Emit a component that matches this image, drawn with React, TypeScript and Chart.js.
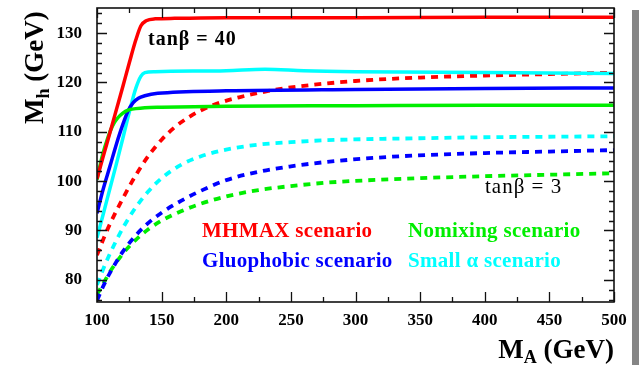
import React, { useEffect, useRef } from 'react';
import { Chart, registerables } from 'chart.js';

Chart.register(...registerables);

// ---- data (M_A in GeV, M_h in GeV) ----
const maRedSolid = [100, 105, 110, 115, 120, 125, 130, 134, 138, 145, 160, 200, 300, 400, 500];
const mhRedSolid = [100.5, 105.2, 109.8, 114.5, 119.2, 124, 128.6, 131.5, 132.5, 132.9, 133, 133.1, 133.1, 133.2, 133.2];

const maGreenSolid = [100, 104, 108.5, 112, 116, 120, 124, 130, 137, 150, 200, 300, 400, 500];
const mhGreenSolid = [100.3, 105, 108.9, 111.2, 112.8, 113.8, 114.4, 114.7, 114.9, 115, 115.2, 115.3, 115.4, 115.4];

const maBlueSolid = [100, 104.6, 110, 115, 120, 124, 128, 132, 137, 147, 200, 300, 400, 500];
const mhBlueSolid = [93.5, 98.2, 103, 107.5, 111.5, 114.2, 115.9, 116.8, 117.3, 117.8, 118.3, 118.6, 118.8, 118.9];

const maCyanSolid = [100, 105, 110, 115, 120, 125, 130, 134, 137, 145, 200, 230, 260, 300, 400, 500];
const mhCyanSolid = [88.5, 93.5, 98.5, 103.5, 108.7, 114, 118.8, 121.3, 122, 122.2, 122.4, 122.7, 122.4, 122.2, 122, 121.8];

const maRedDash = [100, 105, 110, 120, 130, 140, 150, 160, 170, 180, 195, 210, 225, 250, 300, 350, 400, 450, 500];
const mhRedDash = [85, 88.3, 91.3, 96.5, 101.2, 105.2, 108.4, 110.9, 112.8, 114.3, 115.9, 117, 117.9, 119, 120.3, 121, 121.4, 121.7, 122];

const maCyanDash = [100, 105, 110, 115, 120, 130, 140, 150, 165, 180, 200, 225, 250, 278, 350, 400, 450, 500];
const mhCyanDash = [79, 82.3, 85.3, 88, 90.5, 94.7, 98, 100.6, 103.3, 105, 106.4, 107.4, 107.9, 108.3, 108.7, 108.9, 109, 109.1];

const maBlueDash = [100, 105, 110, 120, 130, 140, 150, 165, 180, 200, 225, 250, 278, 325, 400, 450, 500];
const mhBlueDash = [75.8, 78.8, 81.4, 85.7, 89, 91.6, 93.6, 96, 98, 100.2, 101.9, 103, 103.9, 104.9, 105.7, 106, 106.3];

const maGreenDash = [100, 105, 110, 120, 130, 140, 150, 165, 180, 200, 225, 250, 278, 350, 400, 450, 500];
const mhGreenDash = [77, 79.3, 81.6, 85.3, 88.1, 90.3, 92, 93.9, 95.4, 96.9, 98.2, 99, 99.7, 100.6, 101, 101.3, 101.6];

const xTickValues = [100, 150, 200, 250, 300, 350, 400, 450, 500];
const yTickValues = [80, 90, 100, 110, 120, 130];

const legendLabels = ['MHMAX scenario', 'Nomixing scenario', 'Gluophobic scenario', 'Small α scenario'];

const RED = '#ff0000';
const GREEN = '#00ee00';
const BLUE = '#0000ff';
const CYAN = '#00ffff';
const SERIF = "'Liberation Serif', 'DejaVu Serif', serif";

function pts(xs: number[], ys: number[]) {
  return xs.map((x, i) => ({ x, y: ys[i] }));
}

function ds(label: string, xs: number[], ys: number[], color: string, dashed: boolean) {
  return {
    label,
    data: pts(xs, ys),
    borderColor: color,
    backgroundColor: color,
    borderWidth: dashed ? 3.8 : 3.5,
    borderDash: dashed ? [7, 6] : [],
    pointRadius: 0,
    fill: false,
    cubicInterpolationMode: 'monotone' as const,
    borderCapStyle: 'butt' as const,
  };
}

const decorPlugin = {
  id: 'decor',
  afterDatasetsDraw(chart: any) {
    const { ctx, chartArea, scales } = chart;
    const { left, right, top, bottom } = chartArea;
    const xs = scales.x;
    const ys = scales.y;
    ctx.save();
    ctx.strokeStyle = '#111';
    ctx.lineWidth = 1.3;
    ctx.beginPath();
    for (let v = 100; v <= 500; v += 25) {
      const px = Math.round(xs.getPixelForValue(v)) + 0.5;
      const len = v % 50 === 0 ? 10 : 5;
      ctx.moveTo(px, bottom);
      ctx.lineTo(px, bottom - len);
      ctx.moveTo(px, top);
      ctx.lineTo(px, top + len);
    }
    for (let v = 76; v <= 134; v += 2) {
      const py = Math.round(ys.getPixelForValue(v)) + 0.5;
      const len = v % 10 === 0 ? 10 : 5;
      ctx.moveTo(left, py);
      ctx.lineTo(left + len, py);
      ctx.moveTo(right, py);
      ctx.lineTo(right - len, py);
    }
    ctx.stroke();
    ctx.lineWidth = 1.6;
    ctx.strokeRect(left, top, right - left, bottom - top);
    ctx.restore();
  },
  afterDraw(chart: any) {
    const { ctx } = chart;
    ctx.save();
    ctx.fillStyle = '#858585';
    ctx.fillRect(632, 10, 7, 355);

    ctx.fillStyle = '#000';
    ctx.textBaseline = 'alphabetic';
    const bigFont = `bold 27px ${SERIF}`;
    const subFont = `bold 18px ${SERIF}`;
    ctx.font = bigFont;
    const wM = ctx.measureText('M').width;
    const wRest = ctx.measureText(' (GeV)').width;
    ctx.font = subFont;
    const wA = ctx.measureText('A').width;
    const x0 = 614 - (wM + wA + wRest);
    const by = 358;
    ctx.font = bigFont;
    ctx.textAlign = 'left';
    ctx.fillText('M', x0, by);
    ctx.font = subFont;
    ctx.fillText('A', x0 + wM, by + 5);
    ctx.font = bigFont;
    ctx.fillText(' (GeV)', x0 + wM + wA, by);

    ctx.save();
    ctx.translate(43, 124);
    ctx.rotate(-Math.PI / 2);
    ctx.font = bigFont;
    ctx.fillText('M', 0, 0);
    const wM2 = ctx.measureText('M').width;
    ctx.font = subFont;
    ctx.fillText('h', wM2, 6);
    const wh = ctx.measureText('h').width;
    ctx.font = bigFont;
    ctx.fillText(' (GeV)', wM2 + wh, 0);
    ctx.restore();

    // annotations
    (ctx as any).letterSpacing = '1px';
    ctx.font = `bold 20px ${SERIF}`;
    ctx.fillText('tanβ = 40', 148, 45);
    ctx.font = `21px ${SERIF}`;
    ctx.fillText('tanβ = 3', 485, 193);

    // legend texts
    (ctx as any).letterSpacing = '0.3px';
    ctx.font = `bold 21px ${SERIF}`;
    ctx.fillStyle = RED;
    ctx.fillText(legendLabels[0], 202, 237);
    ctx.fillStyle = GREEN;
    ctx.fillText(legendLabels[1], 408, 237);
    ctx.fillStyle = BLUE;
    ctx.fillText(legendLabels[2], 202, 267);
    ctx.fillStyle = CYAN;
    ctx.fillText(legendLabels[3], 408, 267);
    (ctx as any).letterSpacing = '0px';
    ctx.restore();
  },
};

export default function App() {
  const ref = useRef<HTMLCanvasElement | null>(null);
  useEffect(() => {
    document.body.style.margin = '0';
    const canvas = ref.current;
    if (!canvas) return;
    const tickFont = { family: SERIF, size: 17, weight: 'bold' as const };
    const chart = new Chart(canvas, {
      type: 'line',
      data: {
        datasets: [
          ds('MHMAX tanβ=40', maRedSolid, mhRedSolid, RED, false),
          ds('Nomixing tanβ=40', maGreenSolid, mhGreenSolid, GREEN, false),
          ds('Gluophobic tanβ=40', maBlueSolid, mhBlueSolid, BLUE, false),
          ds('Small α tanβ=40', maCyanSolid, mhCyanSolid, CYAN, false),
          ds('MHMAX tanβ=3', maRedDash, mhRedDash, RED, true),
          ds('Small α tanβ=3', maCyanDash, mhCyanDash, CYAN, true),
          ds('Gluophobic tanβ=3', maBlueDash, mhBlueDash, BLUE, true),
          ds('Nomixing tanβ=3', maGreenDash, mhGreenDash, GREEN, true),
        ],
      },
      options: {
        responsive: false,
        animation: false,
        devicePixelRatio: 1,
        layout: { padding: { top: 8, right: 25, left: 0, bottom: 0 } },
        plugins: { legend: { display: false }, tooltip: { enabled: false }, title: { display: false } },
        scales: {
          x: {
            type: 'linear',
            min: 100,
            max: 500,
            grid: { display: false, drawTicks: false },
            border: { display: false },
            ticks: { font: tickFont, color: '#000', padding: 8, maxRotation: 0, autoSkip: false },
            afterBuildTicks: (s: any) => {
              s.ticks = xTickValues.map((v) => ({ value: v }));
            },
            afterFit: (s: any) => {
              s.height = 63;
              s.paddingLeft = 0;
              s.paddingRight = 0;
            },
          },
          y: {
            type: 'linear',
            min: 75.5,
            max: 135.1,
            grid: { display: false, drawTicks: false },
            border: { display: false },
            ticks: { font: tickFont, color: '#000', padding: 15 },
            afterBuildTicks: (s: any) => {
              s.ticks = yTickValues.map((v) => ({ value: v }));
            },
            afterFit: (s: any) => {
              s.width = 97;
              s.paddingTop = 0;
              s.paddingBottom = 0;
            },
          },
        },
      },
      plugins: [decorPlugin],
    });
    return () => chart.destroy();
  }, []);
  return (
    <div style={{ width: 639, height: 365, background: '#fff' }}>
      <canvas ref={ref} width={639} height={365} style={{ display: 'block' }} />
    </div>
  );
}
